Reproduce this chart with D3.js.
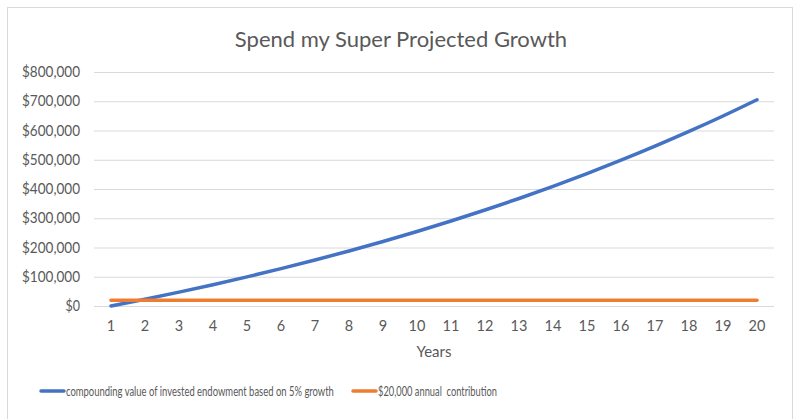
<!DOCTYPE html>
<html>
<head>
<meta charset="utf-8">
<script src="https://cdn.jsdelivr.net/npm/d3@7"></script>
<style>
  body { margin: 0; background: #fff; }
  svg text { font-family: Lato, "Open Sans", sans-serif; fill: #595959; }
</style>
</head>
<body>
<svg id="chart" width="796" height="419"></svg>
<script>
// values
var years = [1,2,3,4,5,6,7,8,9,10,11,12,13,14,15,16,17,18,19,20];
var compounding = [0, 23100, 47400, 72800, 99600, 127700, 157200, 188100, 220600, 254700,
                   290500, 328100, 367600, 409100, 452700, 498400, 546400, 596800, 649700, 705200];
var contribution = [20000,20000,20000,20000,20000,20000,20000,20000,20000,20000,
                    20000,20000,20000,20000,20000,20000,20000,20000,20000,20000];
var yTicks = [0,100000,200000,300000,400000,500000,600000,700000,800000];
var seriesNames = ["compounding value of invested endowment based on 5% growth", "$20,000 annual  contribution"];
var colors = ["#4472C4", "#ED7D31"];

var svg = d3.select("#chart");
var plotLeft = 94, plotRight = 774, plotTop = 72, plotBottom = 306;

// outer chart border
svg.append("rect")
    .attr("x", 7.5).attr("y", 7.5)
    .attr("width", 785).attr("height", 430)
    .attr("fill", "none").attr("stroke", "#d9d9d9");

svg.append("text")
    .attr("x", 401).attr("y", 47)
    .attr("text-anchor", "middle")
    .style("font-size", "22px")
    .text("Spend my Super Projected Growth");

var x = d3.scaleBand().domain(years).range([plotLeft, plotRight]).padding(0);
var y = d3.scaleLinear().domain([0, 800000]).range([plotBottom, plotTop]);

// gridlines
svg.append("g").selectAll("line")
    .data(yTicks).enter().append("line")
    .attr("x1", plotLeft).attr("x2", plotRight)
    .attr("y1", function(d){ return y(d) + 0.5; })
    .attr("y2", function(d){ return y(d) + 0.5; })
    .attr("stroke", "#d9d9d9").attr("stroke-width", 1);

var fmt = d3.format("$,");
var yAxis = svg.append("g")
    .attr("transform", "translate(" + (plotLeft - 14) + ",0)")
    .call(d3.axisLeft(y).tickValues(yTicks).tickSize(0).tickPadding(0).tickFormat(function(d){ return fmt(d); }));
yAxis.select(".domain").remove();
yAxis.selectAll("text").style("font-size", "14.5px").attr("fill", "#595959")
    .attr("textLength", function(d){ return fmt(d).length * 7.25; })
    .attr("lengthAdjust", "spacingAndGlyphs");

var xAxis = svg.append("g")
    .attr("transform", "translate(0," + plotBottom + ")")
    .call(d3.axisBottom(x).tickSize(0).tickPadding(15));
xAxis.select(".domain").remove();
xAxis.selectAll("text").style("font-size", "14.5px").attr("fill", "#595959");

svg.append("text")
    .attr("x", (plotLeft + plotRight) / 2).attr("y", 357)
    .attr("text-anchor", "middle")
    .style("font-size", "15px")
    .text("Years");

var line = d3.line()
    .x(function(d, i){ return x(years[i]) + x.bandwidth() / 2; })
    .y(function(d){ return y(d); })
    .curve(d3.curveMonotoneX);

[compounding, contribution].forEach(function(s, i){
    svg.append("path")
        .datum(s)
        .attr("d", line)
        .attr("fill", "none")
        .attr("stroke", colors[i])
        .attr("stroke-width", 3.5)
        .attr("stroke-linecap", "round");
});

// legend
var legendX = [41, 353];
var legendW = [268, 119];
var leg = svg.append("g").selectAll("g")
    .data(seriesNames).enter().append("g")
    .attr("transform", function(d, i){ return "translate(" + legendX[i] + ",391)"; });
leg.append("line")
    .attr("x1", 0).attr("x2", 23)
    .attr("stroke", function(d, i){ return colors[i]; })
    .attr("stroke-width", 3.5)
    .attr("stroke-linecap", "round");
leg.append("text")
    .attr("dy", "0.35em")
    .style("font-size", "14px")
    .style("white-space", "pre")
    .text(function(d){ return d; })
    .attr("transform", function(d, i){
        var w = this.getComputedTextLength();
        return "translate(25,0) scale(" + (legendW[i] / w) + ",1)";
    });
</script>
</body>
</html>
